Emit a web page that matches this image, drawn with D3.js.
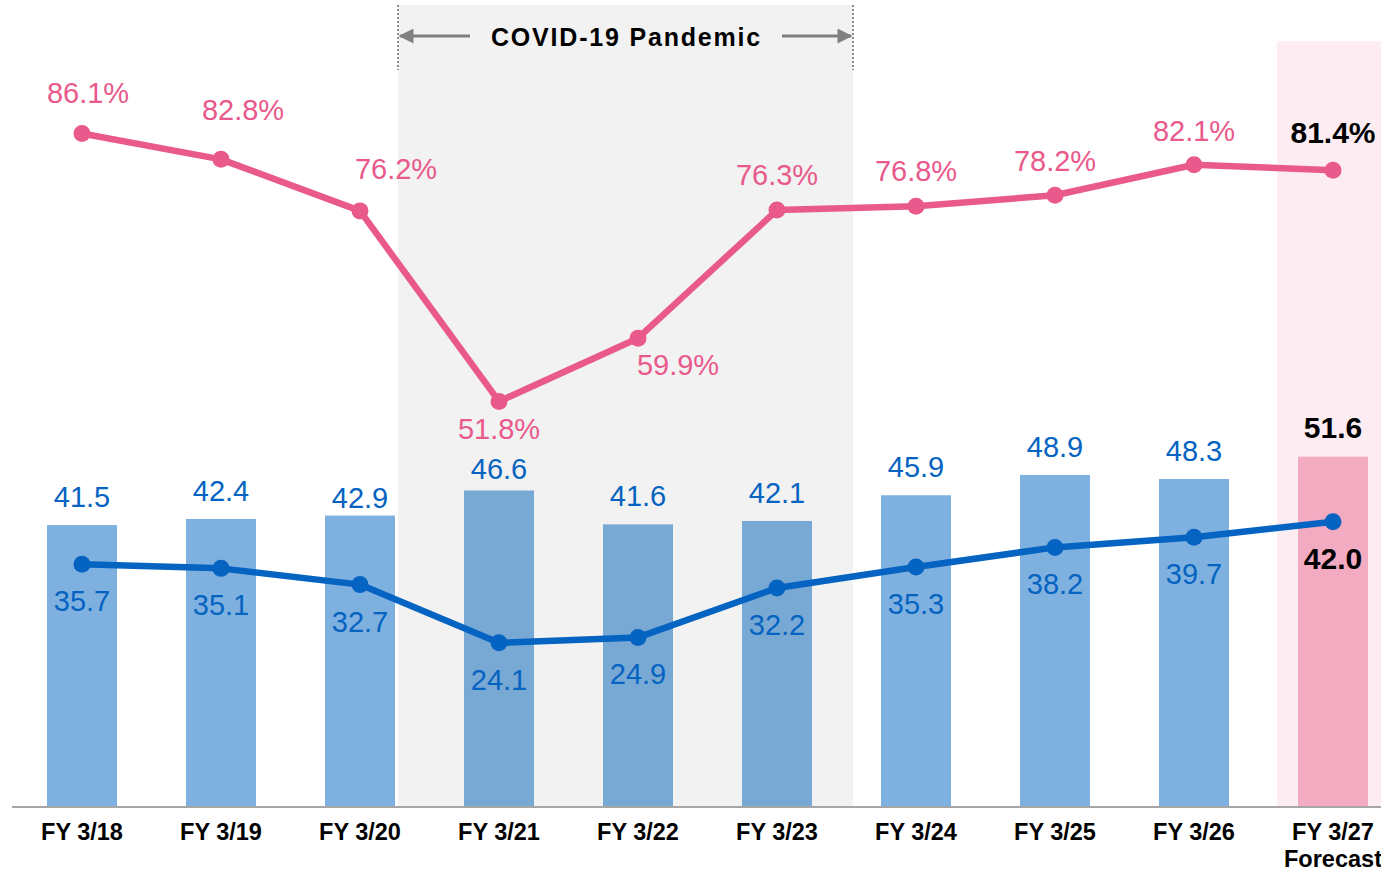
<!DOCTYPE html>
<html>
<head>
<meta charset="utf-8">
<script src="https://cdn.jsdelivr.net/npm/d3@7"></script>
<style>
  body { margin: 0; background: #fff; }
  svg { display: block; font-family: "Liberation Sans", Arial, sans-serif; }
</style>
</head>
<body>
<svg class="chart"></svg>
<script>
// Fiscal years on the x axis
var years = ["FY 3/18", "FY 3/19", "FY 3/20", "FY 3/21", "FY 3/22",
             "FY 3/23", "FY 3/24", "FY 3/25", "FY 3/26", "FY 3/27"];

// Bar series (blue bars, last one is the forecast)
var barValues = [41.5, 42.4, 42.9, 46.6, 41.6, 42.1, 45.9, 48.9, 48.3, 51.6];

// Blue line series
var lineValues = [35.7, 35.1, 32.7, 24.1, 24.9, 32.2, 35.3, 38.2, 39.7, 42.0];

// Pink line series, in percent
var pctValues = [86.1, 82.8, 76.2, 51.8, 59.9, 76.3, 76.8, 78.2, 82.1, 81.4];

// Where each percent label sits relative to its point (dx, dy of baseline)
var pctLabelPos = [[6, -31], [22, -39], [36, -32], [0, 38], [40, 37],
                   [0, -25], [0, -25], [0, -24], [0, -24], [0, -27]];

// Lift of each bar label above its bar top (baseline)
var barLabelLift = [18, 18, 8, 12, 18, 18, 18, 18, 18, 19];

var width = 1381, height = 873, baseY = 806;
var forecastIndex = years.length - 1;

var svg = d3.select(".chart").attr("width", width).attr("height", height);

var x = d3.scalePoint().domain(years).range([82, 1333]);
var yVal = d3.scaleLinear().domain([0, 100]).range([baseY, 129]);
var yPct = d3.scaleLinear().domain([0, 100]).range([baseY, 25]);
var barWidth = 70;

// Forecast band behind the last column
svg.append("rect")
    .attr("x", x(years[forecastIndex]) - 56)
    .attr("y", 41)
    .attr("width", 200)
    .attr("height", baseY - 41)
    .attr("fill", "#FDECF1");

// Bars
svg.selectAll("rect.bar")
    .data(barValues)
  .enter().append("rect")
    .attr("class", "bar")
    .attr("x", function(d, i) { return x(years[i]) - barWidth / 2; })
    .attr("y", function(d) { return yVal(d); })
    .attr("width", barWidth)
    .attr("height", function(d) { return baseY - yVal(d); })
    .attr("fill", function(d, i) { return i == forecastIndex ? "#F3ABC1" : "#7FB1E0"; });

// COVID-19 shaded period, drawn as a light overlay
var covidLeft = x("FY 3/20") + 38, covidRight = x("FY 3/23") + 76;
svg.append("rect")
    .attr("x", covidLeft)
    .attr("y", 5)
    .attr("width", covidRight - covidLeft)
    .attr("height", baseY - 5)
    .attr("fill", "#000")
    .attr("fill-opacity", 0.05);

[covidLeft, covidRight].forEach(function(cx) {
    svg.append("line")
        .attr("x1", cx).attr("x2", cx)
        .attr("y1", 5).attr("y2", 70)
        .attr("stroke", "#8C8C8C")
        .attr("stroke-width", 2)
        .attr("stroke-dasharray", "2,2");
});

var defs = svg.append("defs");
defs.append("marker")
    .attr("id", "arrow")
    .attr("viewBox", "0 0 10 10")
    .attr("refX", 9).attr("refY", 5)
    .attr("markerWidth", 5.5).attr("markerHeight", 5)
    .attr("markerUnits", "strokeWidth")
    .attr("orient", "auto")
  .append("path")
    .attr("d", "M0,0 L10,5 L0,10 Z")
    .attr("fill", "#808080");

svg.append("line")
    .attr("x1", 470).attr("x2", covidLeft + 2)
    .attr("y1", 36).attr("y2", 36)
    .attr("stroke", "#808080").attr("stroke-width", 3)
    .attr("marker-end", "url(#arrow)");
svg.append("line")
    .attr("x1", 782).attr("x2", covidRight - 2)
    .attr("y1", 36).attr("y2", 36)
    .attr("stroke", "#808080").attr("stroke-width", 3)
    .attr("marker-end", "url(#arrow)");

svg.append("text")
    .attr("x", (covidLeft + covidRight) / 2 + 1)
    .attr("y", 46)
    .attr("text-anchor", "middle")
    .attr("font-size", 25)
    .attr("font-weight", "bold")
    .attr("letter-spacing", 1.8)
    .attr("fill", "#000")
    .text("COVID-19 Pandemic");

// Baseline
svg.append("line")
    .attr("x1", 12).attr("x2", width)
    .attr("y1", baseY + 1).attr("y2", baseY + 1)
    .attr("stroke", "#A6A6A6")
    .attr("stroke-width", 2);

// Lines
var pinkColor = "#E9598B", blueColor = "#0563C1";

var pctLine = d3.line()
    .x(function(d, i) { return x(years[i]); })
    .y(function(d) { return yPct(d); });
var valLine = d3.line()
    .x(function(d, i) { return x(years[i]); })
    .y(function(d) { return yVal(d); });

svg.append("path")
    .datum(pctValues)
    .attr("d", pctLine)
    .attr("fill", "none")
    .attr("stroke", pinkColor)
    .attr("stroke-width", 6.5)
    .attr("stroke-linejoin", "round");
svg.selectAll("circle.pct")
    .data(pctValues)
  .enter().append("circle")
    .attr("class", "pct")
    .attr("cx", function(d, i) { return x(years[i]); })
    .attr("cy", function(d) { return yPct(d); })
    .attr("r", 8.5)
    .attr("fill", pinkColor);

svg.append("path")
    .datum(lineValues)
    .attr("d", valLine)
    .attr("fill", "none")
    .attr("stroke", blueColor)
    .attr("stroke-width", 6.5)
    .attr("stroke-linejoin", "round");
svg.selectAll("circle.val")
    .data(lineValues)
  .enter().append("circle")
    .attr("class", "val")
    .attr("cx", function(d, i) { return x(years[i]); })
    .attr("cy", function(d) { return yVal(d); })
    .attr("r", 8.5)
    .attr("fill", blueColor);

// Percent labels
svg.selectAll("text.pct")
    .data(pctValues)
  .enter().append("text")
    .attr("class", "pct")
    .attr("x", function(d, i) { return x(years[i]) + pctLabelPos[i][0]; })
    .attr("y", function(d, i) { return yPct(d) + pctLabelPos[i][1]; })
    .attr("text-anchor", "middle")
    .attr("font-size", function(d, i) { return i == forecastIndex ? 30 : 29; })
    .attr("font-weight", function(d, i) { return i == forecastIndex ? "bold" : "normal"; })
    .attr("fill", function(d, i) { return i == forecastIndex ? "#000" : pinkColor; })
    .text(function(d) { return d.toFixed(1) + "%"; });

// Bar labels
svg.selectAll("text.bar")
    .data(barValues)
  .enter().append("text")
    .attr("class", "bar")
    .attr("x", function(d, i) { return x(years[i]); })
    .attr("y", function(d, i) { return yVal(d) - barLabelLift[i]; })
    .attr("text-anchor", "middle")
    .attr("font-size", function(d, i) { return i == forecastIndex ? 30 : 29; })
    .attr("font-weight", function(d, i) { return i == forecastIndex ? "bold" : "normal"; })
    .attr("fill", function(d, i) { return i == forecastIndex ? "#000" : blueColor; })
    .text(function(d) { return d.toFixed(1); });

// Blue line labels
svg.selectAll("text.val")
    .data(lineValues)
  .enter().append("text")
    .attr("class", "val")
    .attr("x", function(d, i) { return x(years[i]); })
    .attr("y", function(d) { return yVal(d) + 47; })
    .attr("text-anchor", "middle")
    .attr("font-size", function(d, i) { return i == forecastIndex ? 30 : 29; })
    .attr("font-weight", function(d, i) { return i == forecastIndex ? "bold" : "normal"; })
    .attr("fill", function(d, i) { return i == forecastIndex ? "#000" : blueColor; })
    .text(function(d) { return d.toFixed(1); });

// X axis labels
var xAxis = svg.append("g").attr("class", "xaxis");
years.forEach(function(yr, i) {
    xAxis.append("text")
        .attr("x", x(yr))
        .attr("y", 840)
        .attr("text-anchor", "middle")
        .attr("font-size", 23.5)
        .attr("font-weight", "bold")
        .attr("fill", "#000")
        .text(yr);
    if (i == forecastIndex) {
        xAxis.append("text")
            .attr("x", x(yr))
            .attr("y", 867)
            .attr("text-anchor", "middle")
            .attr("font-size", 23.5)
            .attr("font-weight", "bold")
            .attr("fill", "#000")
            .text("Forecast");
    }
});
</script>
</body>
</html>
